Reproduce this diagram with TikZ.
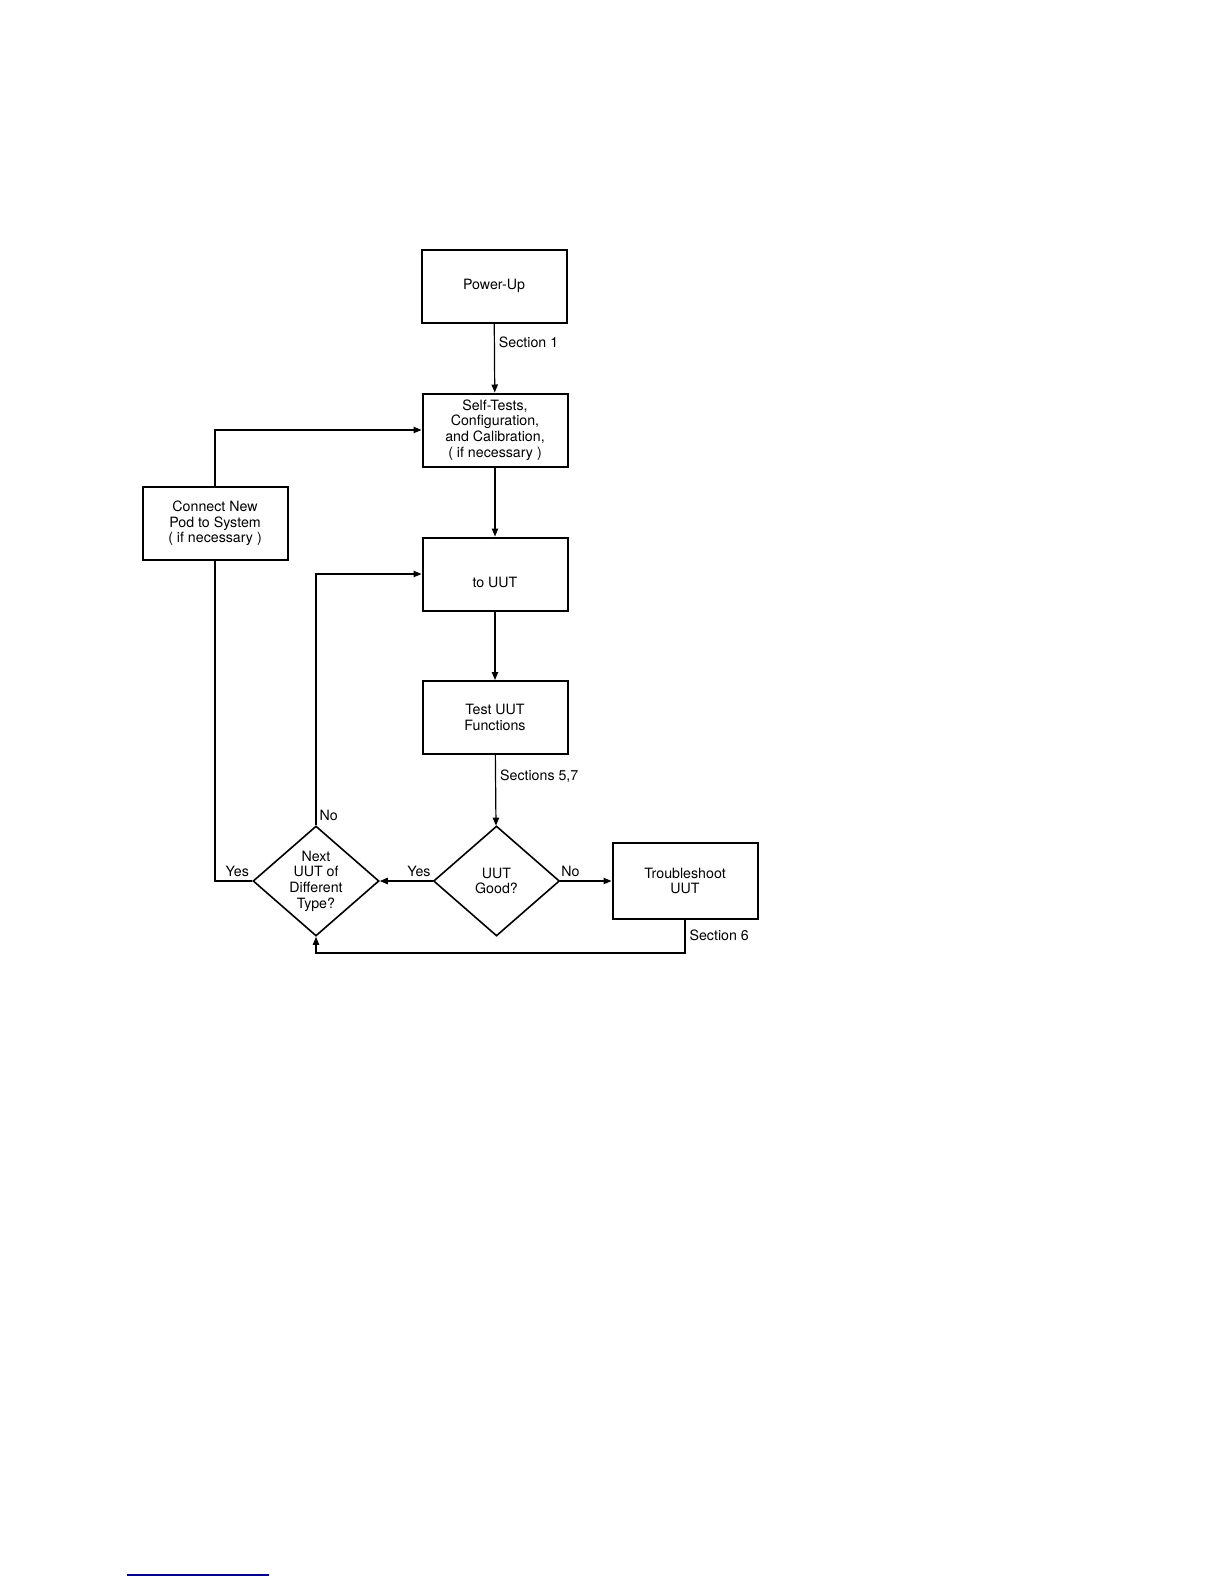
\documentclass[tikz,border=0pt]{standalone}
\usepackage{fontspec}
\setmainfont{TeX Gyre Heros}
\usetikzlibrary{arrows.meta,shapes.geometric}

\begin{document}
\begin{tikzpicture}[x=0.5pt, y=-0.5pt,
    every node/.style={font=\fontsize{7.1}{7.8}\selectfont},
    box/.style={draw, line width=1pt, minimum width=72.5pt, minimum height=36.5pt,
      align=center, inner sep=2pt},
    decision/.style={draw, diamond, line width=0.8pt, minimum width=63pt,
      minimum height=55pt, inner sep=0pt},
    arr/.style={-{Triangle[length=4pt,width=3.2pt]}, line width=0.6pt},
    wire/.style={line width=0.6pt},
    lbl/.style={inner sep=2pt},
  ]
    \useasboundingbox (0,0) rectangle (1224,1584);

    % Main column
    \node[box] (power) at (494, 286) {Power-Up};
    \node[box] (self) at (495, 430) {Self-Tests,\\Configuration,\\and Calibration,\\( if necessary )};
    \node[box, label={[yshift=-4pt]center:to UUT}] (touut) at (495, 574) {};
    \node[box] (test) at (495, 717.5) {Test UUT\\Functions};
    \node[decision, label={[align=center]center:UUT\\Good?}] (good) at (496.5, 881) {};
    \node[box, minimum height=38pt] (trouble) at (685, 881) {Troubleshoot\\UUT};

    % Left side
    \node[decision, label={[align=center]center:Next\\UUT of\\Different\\Type?}] (next) at (316, 881) {};
    \node[box] (connect) at (215, 523.5) {Connect New\\Pod to System\\( if necessary )};

    \draw[arr] (power) -- node[lbl, right, pos=0.27] {Section 1} (self);
    \draw[arr] (self) -- (touut);
    \draw[arr] (touut) -- (test);
    \draw[arr] (test) -- node[lbl, right, pos=0.3] {Sections 5,7} (good);
    \draw[arr] (good.east) -- node[lbl, above, pos=0.2] {No} (trouble);
    \draw[arr] (good.west) -- node[lbl, above, pos=0.26] {Yes} (next.east);
    \draw[arr] (trouble.south) -- node[lbl, right, pos=0.45] {Section 6} ++(0,33) -| (next.south);
    \draw[arr] (next.north) |- node[lbl, right, pos=0.02, inner sep=1.5pt] {No} (touut.west);
    \draw[wire] (next.west) -| node[lbl, above, pos=0.2] {Yes} (connect.south);
    \draw[arr] (connect.north) |- (self.west);

    % rule at foot of page
    \draw[line width=1pt, blue!55!black] (127, 1575) -- (269, 1575);
  \end{tikzpicture}
\end{document}
